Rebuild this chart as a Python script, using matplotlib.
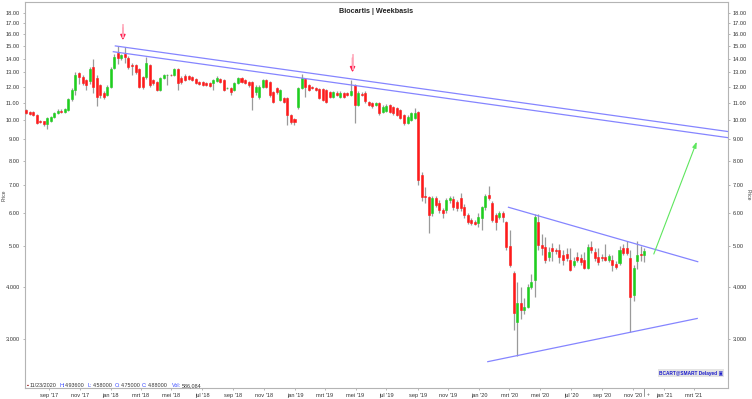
import matplotlib
matplotlib.use('Agg')
import matplotlib.pyplot as plt
import matplotlib.dates as mdates
import matplotlib.transforms as mtransforms
import numpy as np
import pandas as pd

plt.rcParams['font.family'] = ['Liberation Sans', 'DejaVu Sans']

# weekly OHLC, first week 2017-07-17, last week 2020-11-23
opens = [10.56, 10.45, 10.45, 10.28, 9.95, 9.92, 9.78, 9.95, 10.17, 10.39,
         10.48, 10.45, 10.56, 11.22, 11.79, 12.94, 12.66, 12.46, 12.40, 13.38,
         12.59, 12.12, 11.60, 11.47, 11.99, 13.30, 14.45, 14.05, 14.37, 14.05,
         13.50, 13.53, 13.20, 12.66, 12.66, 13.53, 12.46, 12.32, 11.79, 12.59,
         12.78, 12.80, 12.80, 13.24, 12.59, 12.73, 12.73, 12.66, 12.52, 12.32,
         12.32, 12.25, 12.25, 12.25, 12.40, 12.52, 12.46, 11.90, 11.92, 11.79,
         12.25, 12.59, 12.46, 12.32, 12.32, 11.66, 11.35, 11.99, 12.46, 12.32,
         11.66, 11.92, 11.16, 11.28, 11.28, 10.28, 10.06, 10.74, 11.92, 12.52,
         12.12, 11.99, 11.92, 11.85, 11.85, 11.79, 11.66, 11.35, 11.60, 11.35,
         11.60, 11.60, 11.47, 12.12, 10.86, 11.55, 11.60, 11.04, 10.98, 10.86,
         10.98, 10.45, 10.50, 10.86, 10.74, 10.68, 10.56, 10.28, 9.84, 10.00,
         10.11, 10.45, 7.39, 6.60, 6.55, 6.00, 6.50, 6.34, 6.10, 6.10,
         6.44, 6.47, 6.37, 6.50, 6.20, 5.93, 5.77, 5.71, 5.68, 5.84,
         6.20, 6.62, 6.34, 5.93, 5.87, 6.00, 5.71, 5.00, 4.32, 3.29,
         3.66, 3.52, 3.58, 4.00, 4.15, 5.71, 5.03, 4.98, 4.70, 4.95,
         4.90, 4.90, 4.76, 4.80, 4.63, 4.50, 4.71, 4.68, 4.63, 4.43,
         4.98, 4.85, 4.71, 4.71, 4.71, 4.63, 4.63, 4.53, 4.55, 4.95,
         4.95, 4.68, 3.82, 4.60, 4.80, 4.75]
highs = [10.65, 10.50, 10.50, 10.35, 10.00, 9.95, 10.15, 10.20, 10.45, 10.60,
         10.60, 10.70, 11.30, 11.95, 13.00, 13.02, 12.80, 12.55, 13.40, 14.00,
         12.80, 12.20, 11.70, 12.10, 13.35, 14.35, 15.00, 14.40, 14.90, 14.20,
         13.70, 13.60, 13.30, 12.70, 14.13, 13.60, 12.50, 12.40, 12.65, 12.90,
         12.90, 12.90, 13.30, 13.30, 12.70, 12.85, 12.80, 12.75, 12.60, 12.40,
         12.40, 12.30, 12.35, 12.50, 12.75, 12.60, 12.50, 12.00, 12.00, 12.30,
         12.65, 12.65, 12.50, 12.40, 12.40, 12.10, 12.10, 12.50, 12.50, 12.40,
         11.75, 12.00, 11.85, 11.35, 11.35, 10.35, 10.10, 12.00, 12.85, 12.60,
         12.20, 12.05, 12.00, 11.95, 11.95, 11.85, 11.75, 11.75, 11.70, 11.70,
         11.66, 11.66, 12.46, 12.20, 11.70, 11.65, 11.70, 11.10, 11.05, 11.05,
         11.05, 10.85, 10.90, 10.90, 10.80, 10.75, 10.60, 10.35, 10.25, 10.45,
         10.68, 10.50, 7.50, 6.90, 6.60, 6.60, 6.60, 6.45, 6.15, 6.50,
         6.60, 6.60, 6.45, 6.70, 6.30, 6.00, 5.85, 5.78, 6.00, 6.25,
         6.65, 6.95, 6.40, 6.00, 6.05, 6.05, 5.75, 5.45, 4.35, 4.10,
         3.99, 3.75, 4.05, 4.30, 5.98, 5.95, 5.35, 5.25, 4.98, 5.10,
         4.95, 5.05, 4.90, 4.95, 4.95, 4.70, 4.85, 4.80, 4.85, 5.05,
         5.15, 4.95, 4.95, 4.80, 5.05, 4.80, 4.75, 4.60, 5.00, 5.05,
         5.15, 4.90, 4.50, 5.15, 5.00, 4.936]
lows = [10.33, 10.28, 10.20, 9.78, 9.84, 9.70, 9.50, 9.90, 10.12, 10.35,
        10.40, 10.40, 10.50, 11.10, 11.47, 12.20, 12.10, 11.79, 12.20, 11.60,
        10.80, 11.30, 11.20, 11.40, 11.90, 13.20, 13.60, 13.90, 13.68, 13.20,
        12.80, 12.90, 11.90, 11.85, 12.50, 12.00, 12.10, 11.70, 11.70, 12.50,
        12.10, 12.70, 12.70, 11.80, 12.20, 12.40, 12.45, 12.40, 12.20, 12.10,
        12.05, 12.05, 12.00, 11.80, 12.30, 12.25, 11.70, 11.85, 11.47, 11.70,
        12.20, 12.25, 12.20, 12.00, 10.56, 11.50, 11.20, 11.90, 11.90, 11.35,
        10.95, 11.55, 11.10, 10.95, 9.73, 9.80, 9.75, 10.60, 11.85, 11.35,
        11.70, 11.85, 11.70, 11.20, 11.10, 10.95, 11.28, 11.28, 11.40, 11.30,
        11.28, 11.40, 11.40, 9.84, 10.80, 11.40, 11.00, 10.80, 10.70, 10.80,
        10.30, 10.40, 10.45, 10.40, 10.30, 10.20, 10.05, 9.75, 9.78, 9.95,
        10.05, 7.00, 6.40, 6.35, 5.38, 5.90, 6.20, 6.00, 5.85, 6.00,
        6.35, 6.10, 6.05, 6.05, 5.85, 5.65, 5.62, 5.60, 5.55, 5.46,
        6.10, 6.45, 5.70, 5.46, 5.80, 5.70, 4.90, 4.45, 3.15, 2.73,
        3.35, 3.45, 3.55, 3.95, 3.78, 4.90, 4.75, 4.55, 4.60, 4.60,
        4.80, 4.55, 4.50, 4.60, 4.35, 4.45, 4.58, 4.50, 4.40, 4.40,
        4.82, 4.60, 4.50, 4.62, 4.60, 4.58, 4.35, 4.40, 4.50, 4.75,
        4.76, 3.12, 3.70, 4.40, 4.60, 4.58]
closes = [10.39, 10.34, 10.28, 9.84, 9.89, 9.78, 10.11, 10.17, 10.39, 10.51,
          10.46, 10.62, 11.22, 11.79, 12.80, 12.66, 12.25, 12.12, 13.24, 11.99,
          11.35, 11.47, 11.35, 11.99, 13.24, 14.13, 14.05, 14.29, 14.13, 13.38,
          13.45, 13.02, 11.99, 11.99, 13.68, 12.12, 12.25, 11.79, 12.59, 12.80,
          12.80, 12.78, 13.24, 12.25, 12.32, 12.46, 12.52, 12.46, 12.25, 12.18,
          12.12, 12.12, 12.05, 12.46, 12.59, 12.32, 11.79, 11.92, 11.66, 12.25,
          12.59, 12.32, 12.25, 12.12, 11.35, 11.99, 11.99, 12.46, 11.99, 11.47,
          11.04, 11.66, 11.79, 11.04, 10.28, 9.89, 9.89, 11.92, 12.59, 11.99,
          11.79, 11.92, 11.79, 11.28, 11.16, 11.04, 11.35, 11.66, 11.47, 11.60,
          11.35, 11.47, 11.72, 10.86, 11.60, 11.50, 11.10, 10.86, 10.80, 10.98,
          10.39, 10.74, 10.80, 10.45, 10.39, 10.28, 10.11, 9.84, 10.17, 10.39,
          10.39, 7.19, 6.55, 6.55, 5.93, 6.50, 6.27, 6.10, 6.00, 6.44,
          6.50, 6.20, 6.17, 6.17, 5.93, 5.71, 5.68, 5.65, 5.87, 6.20,
          6.60, 6.50, 5.77, 5.71, 6.00, 5.87, 4.98, 4.51, 3.46, 3.66,
          3.52, 3.58, 3.99, 4.10, 5.87, 5.03, 4.96, 4.63, 4.83, 4.87,
          4.87, 4.71, 4.63, 4.68, 4.39, 4.60, 4.63, 4.58, 4.43, 4.98,
          4.90, 4.68, 4.58, 4.68, 4.63, 4.73, 4.51, 4.46, 4.90, 4.81,
          4.81, 3.78, 4.43, 4.75, 4.76, 4.88]

weeks = pd.date_range('2017-07-17', periods=len(closes), freq='7D')

# trend lines (date, price)
channel_top = [('2018-01-10', 15.02), ('2021-05-09', 9.38)]
channel_bot = [('2018-01-06', 14.55), ('2021-05-09', 9.07)]
tri_top = [('2020-02-28', 6.19), ('2021-03-09', 4.59)]
tri_bot = [('2020-01-18', 2.65), ('2021-03-08', 3.36)]
target = [('2020-12-10', 4.72), ('2021-03-09', 9.0)]
red_arrows = [('2018-01-25', 16.85, 15.27), ('2019-04-25', 14.29, 12.8)]

ytick_vals = [3, 4, 5, 6, 7, 8, 9, 10, 11, 12, 13, 14, 15, 16, 17, 18]
ytick_labels = ['3.000', '4.000', '5.00', '6.00', '7.00', '8.00', '9.00', '10.00',
                '11.00', '12.00', '13.00', '14.00', '15.00', '16.00', '17.00', '18.00']
xtick_dates = ['2017-09-01', '2017-11-01', '2018-01-01', '2018-03-01', '2018-05-01',
               '2018-07-01', '2018-09-01', '2018-11-01', '2019-01-01', '2019-03-01',
               '2019-05-01', '2019-07-01', '2019-09-01', '2019-11-01', '2020-01-01',
               '2020-03-01', '2020-05-01', '2020-07-01', '2020-09-01', '2020-11-01',
               '2021-01-01', '2021-03-01']
xtick_labels = ["sep '17", "nov '17", "jan '18", "mrt '18", "mei '18", "jul '18",
                "sep '18", "nov '18", "jan '19", "mrt '19", "mei '19", "jul '19",
                "sep '19", "nov '19", "jan '20", "mrt '20", "mei '20", "jul '20",
                "sep '20", "nov '20", "jan '21", "mrt '21"]

fig = plt.figure(figsize=(7.52, 3.99), dpi=100)
ax = fig.add_axes([24.5 / 752, 11 / 399, 703 / 752, 386 / 399])

x = mdates.date2num(weeks)
o = np.array(opens)
c = np.array(closes)
up = c >= o
cols = np.where(up, '#1fcf1f', '#ff1a1a')

ax.vlines(x, lows, highs, color='#9a9a9a', lw=0.9, zorder=2)
ax.bar(x, np.abs(c - o), bottom=np.minimum(o, c), width=4.0, color=cols,
       edgecolor=cols, linewidth=0.4, zorder=3)

def dline(pts, **kw):
    xs = [mdates.datestr2num(p[0]) for p in pts]
    ys = [p[1] for p in pts]
    ax.plot(xs, ys, **kw)

for pts in (channel_top, channel_bot, tri_top, tri_bot):
    dline(pts, color='#8585ff', lw=0.9, zorder=4)

ax.annotate('', xy=(mdates.datestr2num(target[1][0]), target[1][1]),
            xytext=(mdates.datestr2num(target[0][0]), target[0][1]),
            arrowprops=dict(arrowstyle='-|>,head_width=0.12,head_length=0.35',
                            color='#5ee65e', lw=0.8), zorder=5)

for d, top, tip in red_arrows:
    xd = mdates.datestr2num(d)
    ax.annotate('', xy=(xd, tip), xytext=(xd, top),
                arrowprops=dict(arrowstyle='-|>,head_width=0.15,head_length=0.3',
                                color='#ff2050', lw=1.0), zorder=5)
    ax.plot([xd, xd], [top, tip * 1.035], color='#ffb0c0', lw=1.3, zorder=6)

ax.set_yscale('log')
ax.set_ylim(2.293, 19.12)
ax.set_yticks(ytick_vals)
ax.set_yticklabels(ytick_labels)
ax.yaxis.set_minor_locator(matplotlib.ticker.NullLocator())
ax.set_xlim(mdates.datestr2num('2017-07-14'), mdates.datestr2num('2021-05-07'))
ax.set_xticks([mdates.datestr2num(d) for d in xtick_dates])
ax.set_xticklabels(xtick_labels)

ax.tick_params(axis='both', labelsize=4.1, colors='#333333', length=1.5, width=0.5, pad=2)
ax.tick_params(axis='y', right=True, labelright=True, color='#999999')
ax.tick_params(axis='x', color='#999999')
for s in ax.spines.values():
    s.set_color('#b4b4b4')
    s.set_linewidth(0.8)

ax.text(0.5, 0.985, 'Biocartis | Weekbasis', transform=ax.transAxes, ha='center',
        va='top', fontsize=5.2, fontweight='bold', color='#222222')

fig.text(4 / 752, 1 - 195 / 399, 'Price', rotation=90, fontsize=3.6, color='#444444',
         ha='center', va='center')
fig.text(748 / 752, 1 - 195 / 399, 'Price', rotation=270, fontsize=3.6, color='#444444',
         ha='center', va='center')

# info line bottom-left
info = [('\u25aa', 26.5, '#880000'), ('11/23/2020', 29.5, '#333333'),
        ('H:', 59, '#3344ff'), ('4.93600', 65, '#333333'),
        ('L:', 87.5, '#3344ff'), ('4.58000', 92.5, '#333333'),
        ('O:', 115, '#3344ff'), ('4.75000', 121, '#333333'),
        ('C:', 142, '#3344ff'), ('4.88000', 148, '#333333'),
        ('Vol:', 172, '#3344ff'), ('586,084', 182, '#333333')]
for t, px, col in info:
    fig.text(px / 752, 1 - 387 / 399, t, fontsize=3.9, color=col, ha='left', va='baseline')

fig.text(691 / 752, 1 - 373 / 399, 'BCART@SMART Delayed \u25a3', fontsize=3.4,
         fontweight='bold', color='#1a1acc', ha='center', va='center',
         bbox=dict(boxstyle='square,pad=0.3', fc='#e4e4e4', ec='none'))

# current-week marker below axis
last = mdates.date2num(weeks[-1])
trans = mtransforms.blended_transform_factory(ax.transData, ax.transAxes)
ax.plot([last, last], [0, -0.02], transform=trans, color='#888888', lw=0.6, clip_on=False)
ax.text(last + 6, -0.018, '+', transform=trans, fontsize=3.5, color='#555555',
        ha='left', va='center', clip_on=False)

fig.savefig('out.png', dpi=100)
